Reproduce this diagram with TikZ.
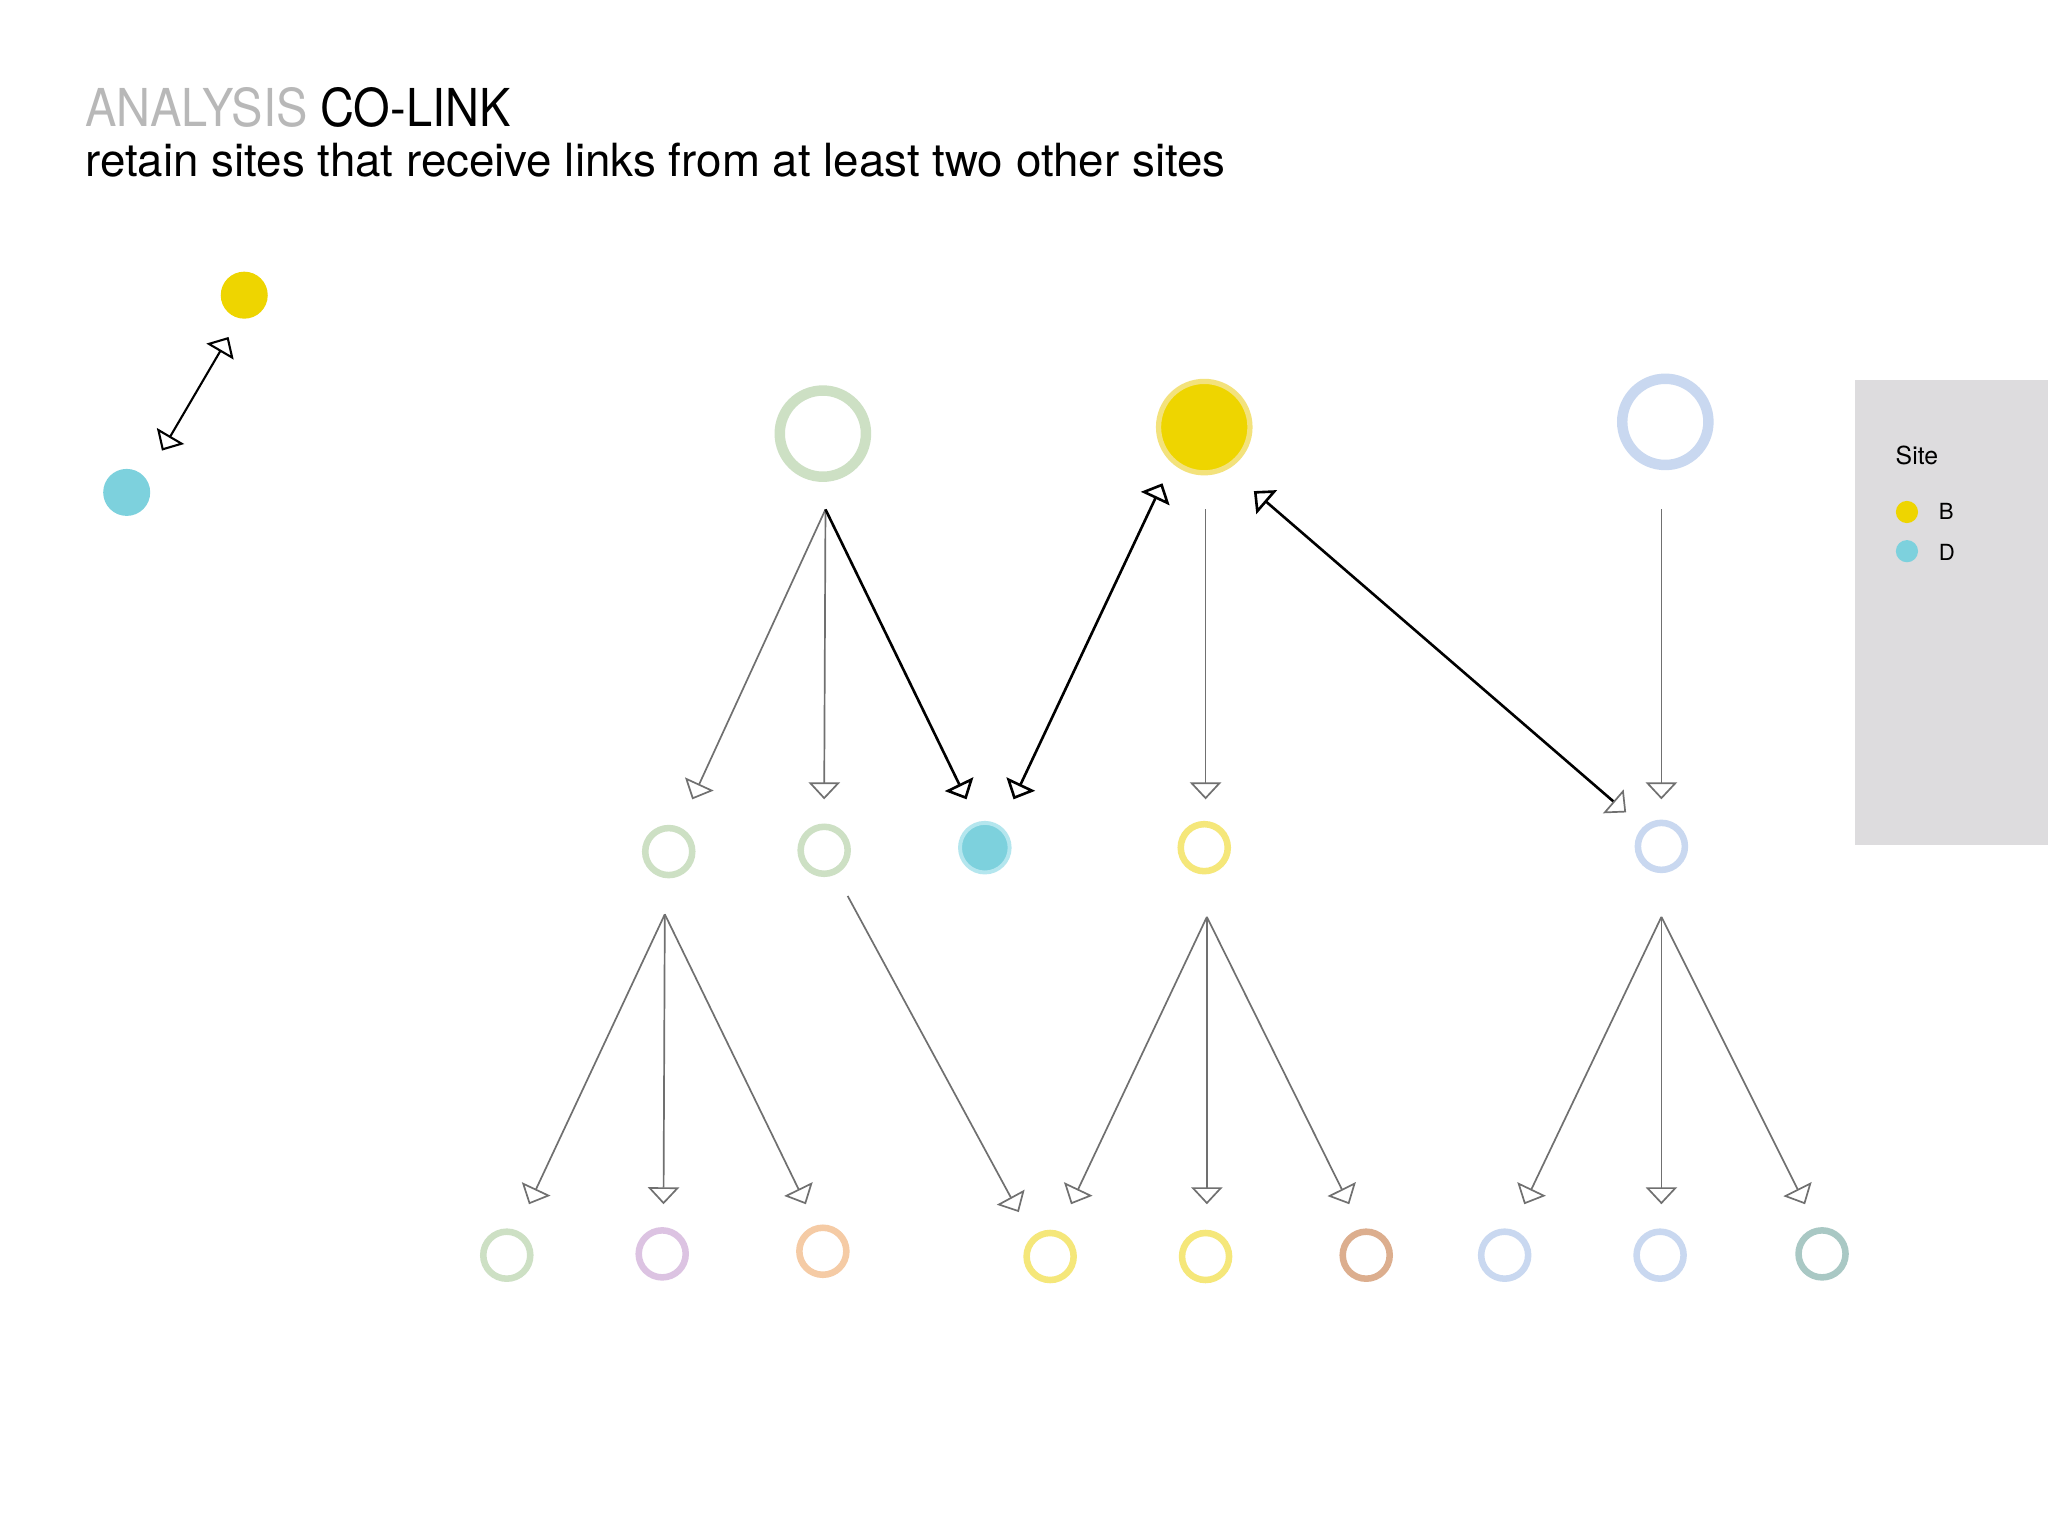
\documentclass[tikz,border=0pt]{standalone}
\usepackage{fontspec}
\setmainfont{TeX Gyre Heros}
\newfontfamily\titlefont[FakeStretch=0.9]{TeX Gyre Heros}
\usetikzlibrary{arrows.meta}
\definecolor{ringgreen}{HTML}{CDE0C4}
\definecolor{ringyellow}{HTML}{F5E77A}
\definecolor{ringblue}{HTML}{C9D8F0}
\definecolor{ringpurple}{HTML}{DCC3E2}
\definecolor{ringorange}{HTML}{F5CBA5}
\definecolor{ringbrown}{HTML}{DCAE8E}
\definecolor{ringteal}{HTML}{A9C8C4}
\definecolor{fillyellow}{HTML}{EED500}
\definecolor{edgeyellow}{HTML}{F3E27C}
\definecolor{fillcyan}{HTML}{7DD1DD}
\definecolor{edgecyan}{HTML}{B4E6EE}
\definecolor{legendbg}{HTML}{DDDCDE}
\definecolor{titlegray}{HTML}{B8B8B8}
\definecolor{linegray}{HTML}{707070}
\tikzset{
  ringbig/.style={circle, inner sep=0pt, minimum size=33pt, line width=4pt},
  ringsm/.style={circle, inner sep=0pt, minimum size=18pt, line width=2.5pt},
  dotnode/.style={circle, inner sep=0pt, minimum size=18pt},
  legdot/.style={circle, inner sep=0pt, minimum size=8.5pt},
  grayarrow/.style={draw=linegray, line width=0.65pt, -{Triangle[open, length=6.5pt, width=12pt]}},
  blackarrow/.style={draw=black, line width=1pt, -{Triangle[open, length=6.5pt, width=12pt]}},
  txt/.style={inner sep=0pt, anchor=base west},
}
\begin{document}
\begin{tikzpicture}[x=0.5pt, y=-0.5pt]
\useasboundingbox[fill=white] (0,0) rectangle (1568,1176);

% title
\node[txt, font=\titlefont\fontsize{20}{24}\selectfont] (title) at (65,97)
  {\textcolor{titlegray}{ANALYSIS} CO-LINK};
\node[txt, font=\fontsize{17.5}{21}\selectfont] (subtitle) at (65,135)
  {retain sites that receive links from at least two other sites};

% legend
\fill[legendbg] (1420,291) rectangle (1568,647);
\node[txt, font=\fontsize{9.5}{11}\selectfont] (legtitle) at (1451,356) {Site};
\node[legdot, fill=fillyellow] (legB) at (1460,392) {};
\node[legdot, fill=fillcyan] (legD) at (1460,422) {};
\node[txt, font=\fontsize{8.5}{10}\selectfont] (legBt) at (1484,398) {B};
\node[txt, font=\fontsize{8.5}{10}\selectfont] (legDt) at (1484,429) {D};

% left pair
\node[dotnode, fill=fillyellow] (pb) at (187,226) {};
\node[dotnode, fill=fillcyan] (pd) at (97,377) {};
\coordinate (pbin) at (175,258);
\coordinate (pdin) at (124,345);
\draw[draw=black, line width=0.8pt, {Triangle[open, length=6.5pt, width=12pt]}-{Triangle[open, length=6.5pt, width=12pt]}] (pdin) -- (pbin);

% top row
\node[ringbig, draw=ringgreen] (t1) at (630,332) {};
\node[circle, inner sep=0pt, minimum size=35pt, line width=2pt, draw=edgeyellow, fill=fillyellow] (t2) at (922,327) {};
\node[ringbig, draw=ringblue] (t3) at (1275,323) {};

% middle row
\node[ringsm, draw=ringgreen] (m1) at (512,652) {};
\node[ringsm, draw=ringgreen] (m2) at (631,651) {};
\node[circle, inner sep=0pt, minimum size=19pt, line width=1.5pt, draw=edgecyan, fill=fillcyan] (m3) at (754,649) {};
\node[ringsm, draw=ringyellow] (m4) at (922,649) {};
\node[ringsm, draw=ringblue] (m5) at (1272,648) {};

% bottom row
\node[ringsm, draw=ringgreen] (b1) at (388,961) {};
\node[ringsm, draw=ringpurple] (b2) at (507,960) {};
\node[ringsm, draw=ringorange] (b3) at (630,958) {};
\node[ringsm, draw=ringyellow] (b4) at (804,962) {};
\node[ringsm, draw=ringyellow] (b5) at (923,962) {};
\node[ringsm, draw=ringbrown] (b6) at (1046,961) {};
\node[ringsm, draw=ringblue] (b7) at (1152,961) {};
\node[ringsm, draw=ringblue] (b8) at (1271,961) {};
\node[ringsm, draw=ringteal] (b9) at (1395,960) {};

% connector end points
\coordinate (t1out) at (632,390);
\coordinate (t2out) at (923,390);
\coordinate (t3out) at (1272,390);
\coordinate (t2inL) at (890,370);
\coordinate (t2inR) at (960,376);
\coordinate (m1in) at (530,612);
\coordinate (m2in) at (631,612);
\coordinate (m3inL) at (740,612);
\coordinate (m3inR) at (776,612);
\coordinate (m4in) at (923,612);
\coordinate (m5in) at (1272,612);
\coordinate (m5inL) at (1245,622);
\coordinate (m1out) at (509,700);
\coordinate (m2out) at (649,686);
\coordinate (m4out) at (924,702);
\coordinate (m5out) at (1272,702);
\coordinate (b1in) at (405,922);
\coordinate (b2in) at (508,922);
\coordinate (b3in) at (617,922);
\coordinate (b4inL) at (780,928);
\coordinate (b4inR) at (820,922);
\coordinate (b5in) at (924,922);
\coordinate (b6in) at (1033,922);
\coordinate (b7in) at (1167,922);
\coordinate (b8in) at (1272,922);
\coordinate (b9in) at (1382,922);

% top to middle
\draw[grayarrow] (t1out) -- (m1in);
\draw[grayarrow] (t1out) -- (m2in);
\draw[blackarrow] (t1out) -- (m3inL);
\draw[blackarrow, {Triangle[open, length=6.5pt, width=12pt]}-{Triangle[open, length=6.5pt, width=12pt]}] (m3inR) -- (t2inL);
\draw[grayarrow] (t2out) -- (m4in);
\draw[draw=black, line width=1pt, {Triangle[open, length=6.5pt, width=12pt]}-{Triangle[open, length=6.5pt, width=12pt, color=linegray, line width=0.65pt]}] (t2inR) -- (m5inL);
\draw[grayarrow] (t3out) -- (m5in);

% middle to bottom
\draw[grayarrow] (m1out) -- (b1in);
\draw[grayarrow] (m1out) -- (b2in);
\draw[grayarrow] (m1out) -- (b3in);
\draw[grayarrow] (m2out) -- (b4inL);
\draw[grayarrow] (m4out) -- (b4inR);
\draw[grayarrow] (m4out) -- (b5in);
\draw[grayarrow] (m4out) -- (b6in);
\draw[grayarrow] (m5out) -- (b7in);
\draw[grayarrow] (m5out) -- (b8in);
\draw[grayarrow] (m5out) -- (b9in);
\end{tikzpicture}
\end{document}
